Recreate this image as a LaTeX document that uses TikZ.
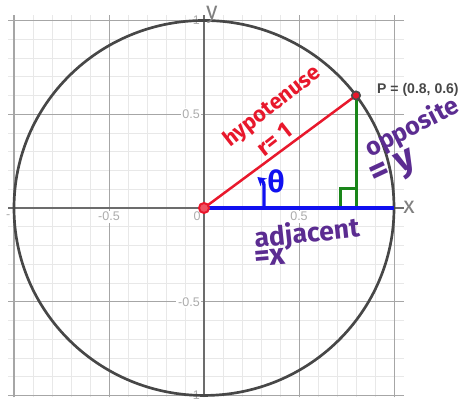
\documentclass[tikz,border=0pt]{standalone}
\usepackage{fontspec}
\setmainfont{Liberation Sans}
\newfontfamily\handfont{Fira Sans}
\usetikzlibrary{arrows.meta}
\usetikzlibrary{calc}
\colorlet{gridlines}{gray!18}
\colorlet{majorlines}{gray!70}
\colorlet{axes}{gray!85!black}
\colorlet{ticks}{gray!65}
\colorlet{circ}{black!72}
\definecolor{hyp}{RGB}{232,24,44}
\definecolor{adj}{RGB}{16,16,240}
\definecolor{opp}{RGB}{26,134,26}
\definecolor{note}{RGB}{91,44,145}

\begin{document}
\begin{tikzpicture}[x=4cm, y=3.947cm,
        tick/.style={font=\fontsize{7.5}{9}\selectfont, text=ticks, inner sep=1pt},
        hand/.style={font=\handfont\bfseries\fontsize{#1}{#1}\selectfont, inner sep=0pt},
        axlabel/.style={font=\handfont\fontsize{14}{14}\selectfont, text=gray, inner sep=0pt}]
        \useasboundingbox (-1.0737,-1.0347) rectangle (1.3684,1.1093);
        \draw[step=0.1, gridlines] (-1.03,-1.01) grid (1.05,1.03);
        \draw[step=0.5, majorlines, line width=0.6pt] (-1.03,-1.01) grid (1.05,1.03);
        \draw[axes, line width=0.8pt] (-1.03,0) -- (1.05,0);
        \draw[axes, line width=0.8pt] (0,-1.01) -- (0,1.03);
        \foreach \y [count=\i] in {1,0.5,-0.5,-1}
        {
            \node[tick, anchor=east, fill=white] (ty\i) at (-0.012,\y) {\y};
        }
        \foreach \x [count=\i] in {-0.5,0.5}
        {
            \node[tick, anchor=north, fill=white] (tx\i) at (\x,-0.012) {\x};
        }
        \node[tick, anchor=north east] (tx0) at (-0.008,-0.012) {0};
        \node[tick] (txm) at (-1.03,-0.045) {-};
        \coordinate (O) at (0,0);
        \coordinate (P) at (0.8,0.6);
        \coordinate (Q) at (0.8,0);
        \coordinate (A) at (1,0);
        \coordinate (T0) at (0.316,0);
        \draw[circ, line width=1.6pt] (O) circle[radius=1];
        \draw[opp, line width=1.8pt] (P) -- (Q);
        \draw[opp, line width=1.8pt] ($(Q)+(-0.084,0)$) -- ++(0,0.105) -- ++(0.084,0);
        \draw[adj, line width=2.4pt] (O) -- (A);
        \draw[hyp, line width=1.5pt] (O) -- (P);
        \draw[adj, line width=2pt, -{Stealth[length=5pt,width=6pt]}] (T0) -- ++(0,0.12) to[out=90,in=-40] ++(-0.035,0.045);
        \node[circle, draw=hyp, fill=hyp!75, line width=1.2pt, minimum size=6pt, inner sep=0pt] (Odot) at (O) {};
        \node[circle, draw=black!70, fill=hyp, line width=1pt, minimum size=5pt, inner sep=0pt] (Pdot) at (P) {};
        \node[font=\bfseries\fontsize{8.4}{10}\selectfont, text=black!72, inner sep=0pt] (plab) at (1.126,0.629) {P = (0.8, 0.6)};
        \node[axlabel] (xax) at (1.079,0.005) {x};
        \node[axlabel] (yax) at (0.042,1.03) {y};
        \node[hand=13, text=hyp, rotate=38] (hyplab) at (0.36,0.54) {hypotenuse};
        \node[hand=14, text=hyp, rotate=38] (rlab) at (0.37,0.365) {r= 1};
        \node[hand=18, text=adj] (thlab) at (0.38,0.14) {θ};
        \node[hand=15, text=note, rotate=27] (opplab) at (1.095,0.427) {opposite};
        \node[hand=22, text=note, rotate=25] (ylab) at (1.0,0.2) {= y};
        \node[hand=16, text=note, rotate=6] (adjlab) at (0.542,-0.142) {adjacent};
        \node[hand=18, text=note, rotate=5] (xlab) at (0.345,-0.262) {=x};
    \end{tikzpicture}
\end{document}
